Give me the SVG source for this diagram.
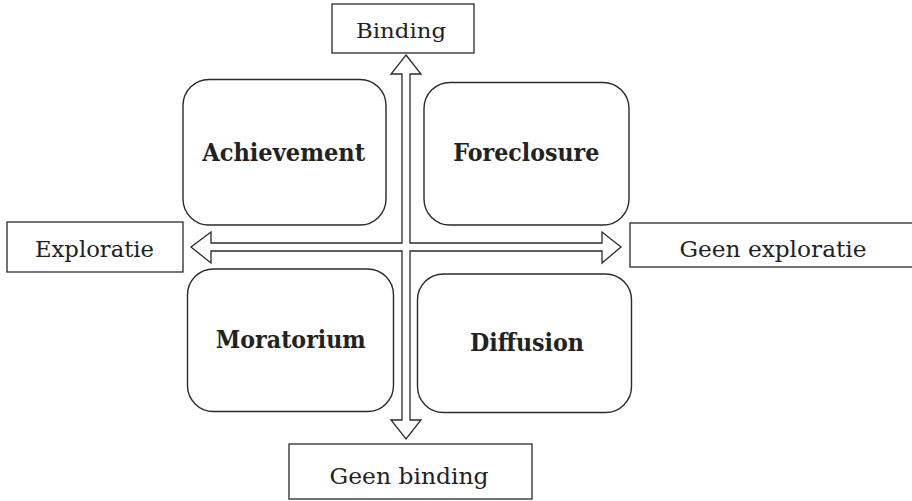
<svg xmlns="http://www.w3.org/2000/svg" width="912" height="501" viewBox="0 0 912 501">
<style>
.box{fill:#fff;stroke:#2a2a2a;stroke-width:1.3}
.rbox{fill:#fff;stroke:#2a2a2a;stroke-width:1.4}
.lbl{font-family:"DejaVu Serif","Liberation Serif",serif;fill:#222;text-anchor:middle}
.bold{font-weight:bold}
.arrow{fill:#fff;stroke:#2a2a2a;stroke-width:1.3;stroke-linejoin:miter}
</style>
<rect width="912" height="501" fill="#fff"/>
<g id="connectors">
<path class="arrow" d="M406,55 L421,74 L410,74 L410,243 L602,243 L602,232 L621,247 L602,263 L602,251 L410,251 L410,420 L421,420 L406,439 L391,420 L402,420 L402,251 L211,251 L211,263 L191,247 L211,232 L211,243 L402,243 L402,74 L391,74 Z"/>
</g>
<g id="binding">
<rect class="box" x="332" y="4" width="142" height="49"/>
<text class="lbl" x="401" y="37.5" font-size="20" textLength="90" lengthAdjust="spacingAndGlyphs">Binding</text>
</g>
<g id="exploratie">
<rect class="box" x="7" y="222" width="176" height="50"/>
<text class="lbl" x="94.5" y="257" font-size="22.5" textLength="119" lengthAdjust="spacingAndGlyphs">Exploratie</text>
</g>
<g id="geen-exploratie">
<rect class="box" x="630" y="223" width="290" height="44"/>
<text class="lbl" x="773" y="256.5" font-size="22" textLength="187" lengthAdjust="spacingAndGlyphs">Geen exploratie</text>
</g>
<g id="geen-binding">
<rect class="box" x="289" y="444" width="243" height="55"/>
<text class="lbl" x="409" y="483.5" font-size="22.5" textLength="159" lengthAdjust="spacingAndGlyphs">Geen binding</text>
</g>
<g id="achievement">
<rect class="rbox" x="183" y="79.5" width="203" height="145.5" rx="26" ry="26"/>
<text class="lbl bold" x="283.7" y="161" font-size="23.5" textLength="163" lengthAdjust="spacingAndGlyphs">Achievement</text>
</g>
<g id="foreclosure">
<rect class="rbox" x="424" y="82.5" width="205" height="142.5" rx="26" ry="26"/>
<text class="lbl bold" x="526.3" y="161" font-size="23.5" textLength="146" lengthAdjust="spacingAndGlyphs">Foreclosure</text>
</g>
<g id="moratorium">
<rect class="rbox" x="187.5" y="269" width="206" height="142.5" rx="26" ry="26"/>
<text class="lbl bold" x="290.8" y="348" font-size="23.5" textLength="150" lengthAdjust="spacingAndGlyphs">Moratorium</text>
</g>
<g id="diffusion">
<rect class="rbox" x="417.5" y="274" width="214" height="138.5" rx="26" ry="26"/>
<text class="lbl bold" x="527" y="351" font-size="23.5" textLength="114" lengthAdjust="spacingAndGlyphs">Diffusion</text>
</g>
</svg>
